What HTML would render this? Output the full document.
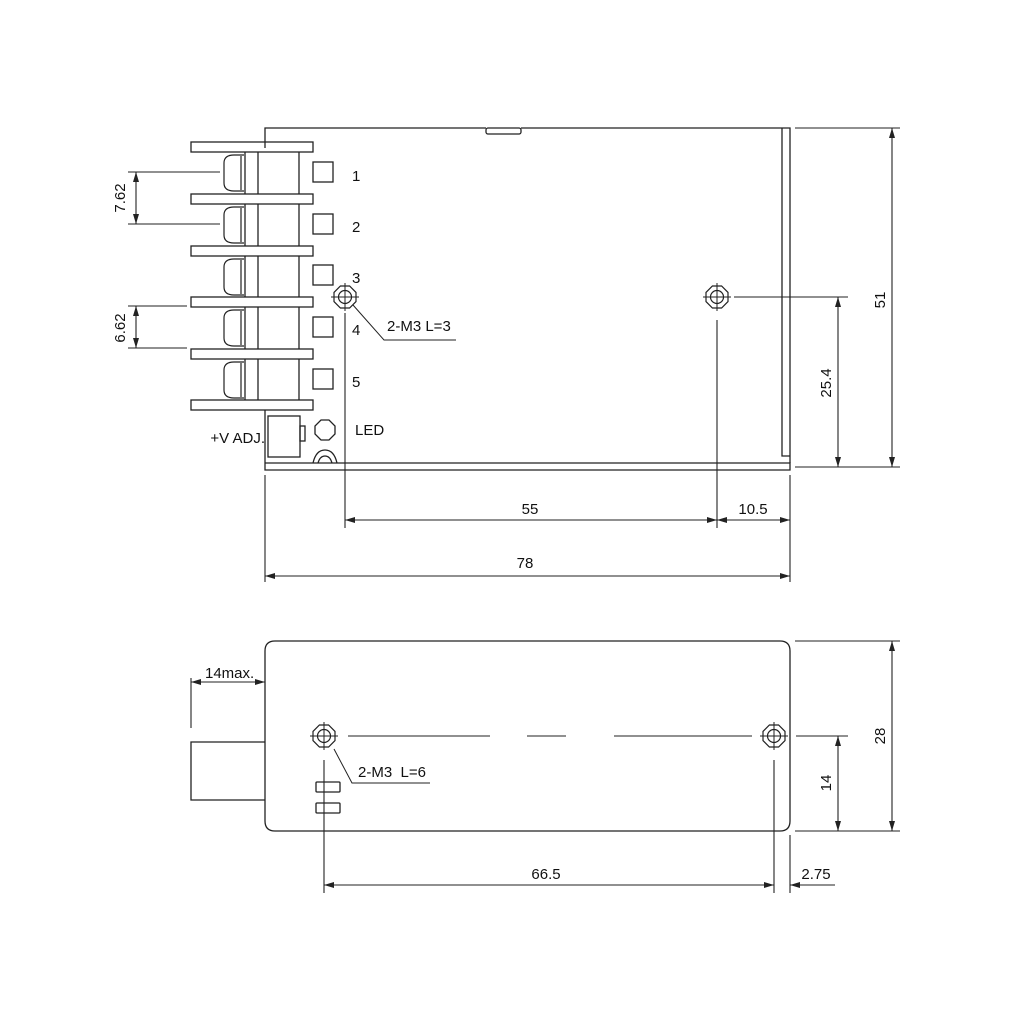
<!DOCTYPE html>
<html><head><meta charset="utf-8"><style>html,body{margin:0;padding:0;background:#fff}svg{display:block}</style></head>
<body>
<svg width="1024" height="1024" viewBox="0 0 1024 1024" xmlns="http://www.w3.org/2000/svg">
<defs>
<marker id="a" viewBox="0 0 10 6" refX="10" refY="3" markerWidth="10" markerHeight="6" orient="auto-start-reverse" markerUnits="userSpaceOnUse"><path d="M0,0 L10,3 L0,6 z" fill="#222"/></marker>
<g id="hole"><polygon points="-4.6,-11 4.6,-11 11,-4.6 11,4.6 4.6,11 -4.6,11 -11,4.6 -11,-4.6" fill="none" stroke="#222" stroke-width="1.2"/><circle r="6.5" fill="none" stroke="#222" stroke-width="1.2"/><path d="M-14,0 H14 M0,-14 V14" stroke="#222" stroke-width="1"/></g>
<g id="head"><path d="M20,0 H10 Q0,0 0,8 V28 Q0,36 10,36 H20" fill="none" stroke="#222" stroke-width="1.2"/><path d="M17,1 V35" stroke="#222" stroke-width="1.2"/></g>
</defs>
<g fill="none" stroke="#222" stroke-width="1.3" font-family="Liberation Sans, sans-serif">
<path d="M265,148 V128 H486 M521,128 H790 V463"/>
<rect x="486" y="128" width="35" height="6" rx="2"/>
<path d="M782,128 V456 H790"/>
<path d="M265,410 V470 H790 V463 H265"/>
<g>
<rect x="191" y="142" width="122" height="10"/>
<rect x="191" y="194" width="122" height="10"/>
<rect x="191" y="246" width="122" height="10"/>
<rect x="191" y="297" width="122" height="10"/>
<rect x="191" y="349" width="122" height="10"/>
<rect x="191" y="400" width="122" height="10"/>
<path d="M245,152 V194 M258,152 V194 M299,152 V194 M245,204 V246 M258,204 V246 M299,204 V246 M245,256 V297 M258,256 V297 M299,256 V297 M245,307 V349 M258,307 V349 M299,307 V349 M245,359 V400 M258,359 V400 M299,359 V400"/>
<use href="#head" x="224" y="155"/>
<use href="#head" x="224" y="207"/>
<use href="#head" x="224" y="259"/>
<use href="#head" x="224" y="310"/>
<use href="#head" x="224" y="362"/>
<rect x="313" y="162" width="20" height="20"/>
<rect x="313" y="214" width="20" height="20"/>
<rect x="313" y="265" width="20" height="20"/>
<rect x="313" y="317" width="20" height="20"/>
<rect x="313" y="369" width="20" height="20"/>
</g>
<rect x="268" y="416" width="32" height="41"/>
<rect x="300" y="426" width="5" height="15"/>
<polygon points="321,420 329,420 335,426 335,434 329,440 321,440 315,434 315,426"/>
<path d="M313,463 Q316,450 325,450 Q334,450 337,463"/>
<path d="M318,463 Q320,456 325,456 Q330,456 332,463"/>
<use href="#hole" x="345" y="297"/>
<use href="#hole" x="717" y="297"/>
<path d="M353,305 L384,340 H456" stroke-width="1"/>
<path d="M345,313 V528 M717,320 V528" stroke-width="1.1"/>
<path d="M734,297 H848" stroke-width="1.1"/>
<path d="M265,475 V582 M790,475 V582" stroke-width="1.1"/>
<line x1="345" y1="520" x2="717" y2="520" marker-start="url(#a)" marker-end="url(#a)" stroke-width="1.1"/>
<line x1="717" y1="520" x2="790" y2="520" marker-start="url(#a)" marker-end="url(#a)" stroke-width="1.1"/>
<line x1="265" y1="576" x2="790" y2="576" marker-start="url(#a)" marker-end="url(#a)" stroke-width="1.1"/>
<path d="M795,128 H900 M795,467 H900" stroke-width="1.1"/>
<line x1="892" y1="128" x2="892" y2="467" marker-start="url(#a)" marker-end="url(#a)" stroke-width="1.1"/>
<line x1="838" y1="297" x2="838" y2="467" marker-start="url(#a)" marker-end="url(#a)" stroke-width="1.1"/>
<path d="M128,172 H220 M128,224 H220 M128,306 H187 M128,348 H187" stroke-width="1.1"/>
<line x1="136" y1="172" x2="136" y2="224" marker-start="url(#a)" marker-end="url(#a)" stroke-width="1.1"/>
<line x1="136" y1="306" x2="136" y2="348" marker-start="url(#a)" marker-end="url(#a)" stroke-width="1.1"/>
<path d="M275,641 H780 Q790,641 790,651 V821 Q790,831 780,831 H275 Q265,831 265,821 V651 Q265,641 275,641 Z"/>
<path d="M265,742 H191 V800 H265"/>
<path d="M191,678 V728" stroke-width="1.1"/>
<line x1="191" y1="682" x2="265" y2="682" marker-start="url(#a)" marker-end="url(#a)" stroke-width="1.1"/>
<use href="#hole" x="324" y="736"/>
<use href="#hole" x="774" y="736"/>
<path d="M348,736 H490 M527,736 H566 M614,736 H752 M796,736 H848" stroke-width="1.1"/>
<path d="M334,749 L352,783 H430" stroke-width="1"/>
<rect x="316" y="782" width="24" height="10" rx="1"/>
<rect x="316" y="803" width="24" height="10" rx="1"/>
<path d="M324,760 V893 M774,760 V893 M790,835 V893" stroke-width="1.1"/>
<line x1="324" y1="885" x2="774" y2="885" marker-start="url(#a)" marker-end="url(#a)" stroke-width="1.1"/>
<line x1="835" y1="885" x2="790" y2="885" marker-end="url(#a)" stroke-width="1.1"/>
<path d="M795,641 H900 M795,831 H900" stroke-width="1.1"/>
<line x1="892" y1="641" x2="892" y2="831" marker-start="url(#a)" marker-end="url(#a)" stroke-width="1.1"/>
<line x1="838" y1="736" x2="838" y2="831" marker-start="url(#a)" marker-end="url(#a)" stroke-width="1.1"/>
</g>
<g font-family="Liberation Sans, sans-serif" font-size="15" fill="#111">
<text x="352" y="181">1</text>
<text x="352" y="232">2</text>
<text x="352" y="283">3</text>
<text x="352" y="335">4</text>
<text x="352" y="387">5</text>
<text x="387" y="331">2-M3 L=3</text>
<text x="265" y="443" text-anchor="end">+V ADJ.</text>
<text x="355" y="435">LED</text>
<text x="530" y="514" text-anchor="middle">55</text>
<text x="753" y="514" text-anchor="middle">10.5</text>
<text x="525" y="568" text-anchor="middle">78</text>
<text transform="translate(885,300) rotate(-90)" text-anchor="middle">51</text>
<text transform="translate(831,383) rotate(-90)" text-anchor="middle">25.4</text>
<text transform="translate(125,198) rotate(-90)" text-anchor="middle">7.62</text>
<text transform="translate(125,328) rotate(-90)" text-anchor="middle">6.62</text>
<text x="205" y="678">14max.</text>
<text x="358" y="777">2-M3 &#160;L=6</text>
<text x="546" y="879" text-anchor="middle">66.5</text>
<text x="816" y="879" text-anchor="middle">2.75</text>
<text transform="translate(885,736) rotate(-90)" text-anchor="middle">28</text>
<text transform="translate(831,783) rotate(-90)" text-anchor="middle">14</text>
</g>
</svg>
</body></html>
